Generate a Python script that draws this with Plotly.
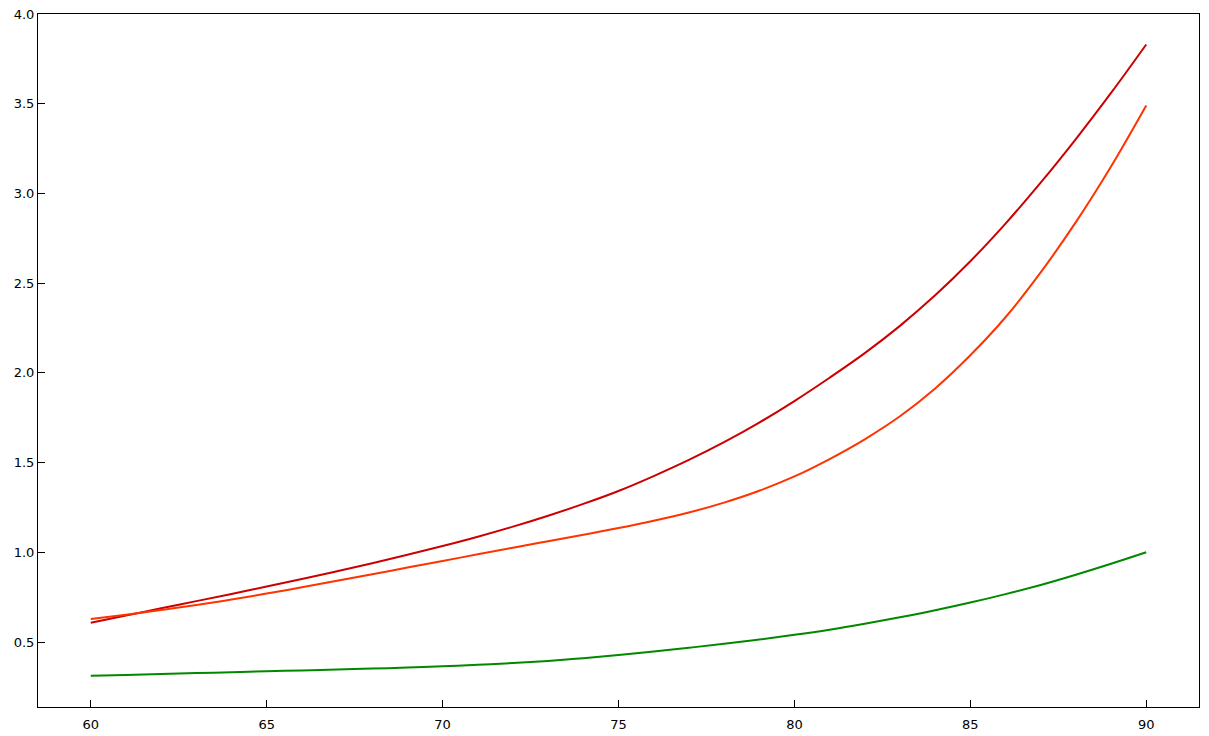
import plotly.graph_objects as go

ages = list(range(60, 91))

series_dark_red = [0.608, 0.648, 0.688, 0.728, 0.768, 0.809, 0.851, 0.894, 0.939, 0.986,
                   1.035, 1.087, 1.143, 1.204, 1.270, 1.342, 1.425, 1.515, 1.614, 1.723,
                   1.843, 1.973, 2.110, 2.262, 2.432, 2.622, 2.832, 3.060, 3.303, 3.560,
                   3.830]

series_orange = [0.628, 0.652, 0.678, 0.706, 0.737, 0.770, 0.805, 0.841, 0.878, 0.915,
                 0.952, 0.989, 1.026, 1.062, 1.098, 1.135, 1.176, 1.222, 1.277, 1.343,
                 1.423, 1.520, 1.630, 1.758, 1.913, 2.098, 2.310, 2.560, 2.840, 3.150,
                 3.490]

series_green = [0.312, 0.317, 0.322, 0.327, 0.332, 0.337, 0.342, 0.347, 0.352, 0.358,
                0.365, 0.373, 0.383, 0.395, 0.410, 0.428, 0.447, 0.468, 0.490, 0.514,
                0.540, 0.569, 0.602, 0.638, 0.677, 0.720, 0.767, 0.818, 0.875, 0.936,
                1.000]

x_ticks = [60, 65, 70, 75, 80, 85, 90]
y_ticks = [0.5, 1.0, 1.5, 2.0, 2.5, 3.0, 3.5, 4.0]
y_tick_labels = ["0.5", "1.0", "1.5", "2.0", "2.5", "3.0", "3.5", "4.0"]

fig = go.Figure()
fig.add_trace(go.Scatter(x=ages, y=series_dark_red, mode="lines",
                         line=dict(color="#cc0000", width=2, shape="spline"), showlegend=False))
fig.add_trace(go.Scatter(x=ages, y=series_orange, mode="lines",
                         line=dict(color="#ff3300", width=2, shape="spline"), showlegend=False))
fig.add_trace(go.Scatter(x=ages, y=series_green, mode="lines",
                         line=dict(color="#008800", width=2, shape="spline"), showlegend=False))

axis_common = dict(showgrid=False, zeroline=False, showline=True, linecolor="black",
                   linewidth=1, mirror=True, ticks="inside", ticklen=7, tickwidth=1,
                   tickcolor="black", tickfont=dict(family="DejaVu Sans", size=13, color="black"))

fig.update_xaxes(range=[58.5, 91.5], tickvals=x_ticks, ticklabelstandoff=5, **axis_common)
fig.update_yaxes(range=[0.138, 4.0], tickvals=y_ticks, ticktext=y_tick_labels, **axis_common)

fig.update_layout(width=1209, height=736, plot_bgcolor="white", paper_bgcolor="white",
                  margin=dict(l=38, r=10, t=14, b=29, autoexpand=False))

fig.write_html("out.html", config={"displayModeBar": False},
               post_script="document.body.style.margin='0';document.body.style.overflow='hidden';")
